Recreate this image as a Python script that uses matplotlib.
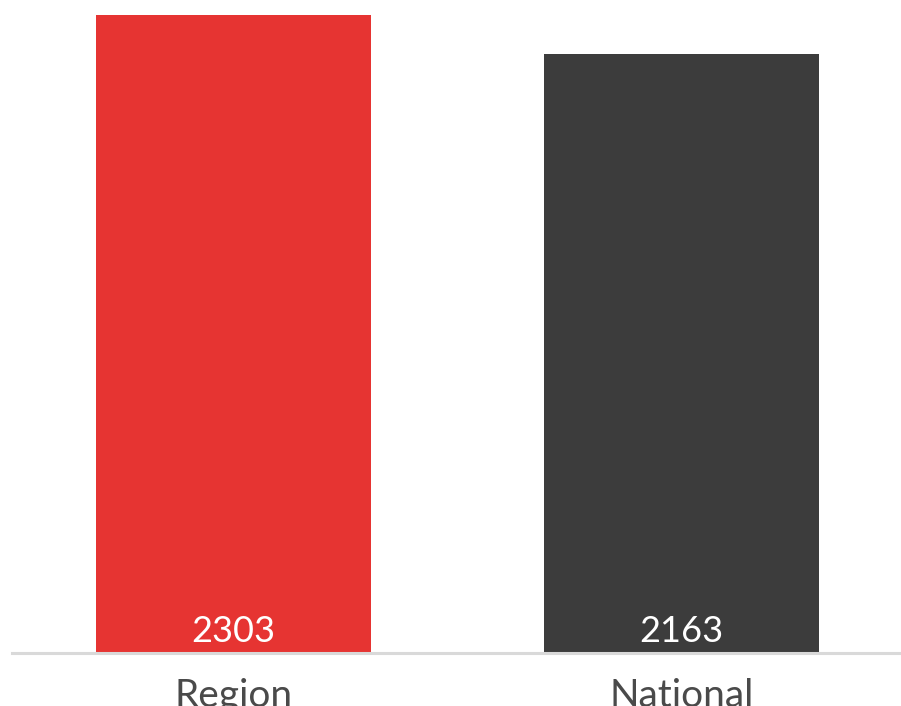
import matplotlib
matplotlib.use("Agg")
import matplotlib.pyplot as plt

categories = ["Region", "National"]
values = [2303, 2163]
colors = ["#e63432", "#3c3c3c"]

plt.rcParams['font.family'] = ['Lato', 'DejaVu Sans']

fig = plt.figure(figsize=(9.01, 7.06), dpi=100)
ax = fig.add_axes([12 / 901, 53 / 706, 888 / 901, 653 / 706])

x = list(range(len(categories)))
bars = ax.bar(x, values, width=0.614, color=colors, zorder=2)
ax.set_xlim(-0.494, 1.488)
ax.set_ylim(0, 2303 * 653 / 638)

for b, v in zip(bars, values):
    ax.text(b.get_x() + b.get_width() / 2, 38, str(v), ha="center", va="baseline",
            color="white", fontsize=26)

for s in ["top", "right", "left"]:
    ax.spines[s].set_visible(False)
ax.spines["bottom"].set_color("#d9d9d9")
ax.spines["bottom"].set_linewidth(2.2)
ax.set_yticks([])
ax.set_xticks(x)
ax.set_xticklabels(categories, fontsize=28, color="#4a4a4a")
ax.tick_params(axis="x", length=0, pad=18)

fig.savefig("out.png", dpi=100)
